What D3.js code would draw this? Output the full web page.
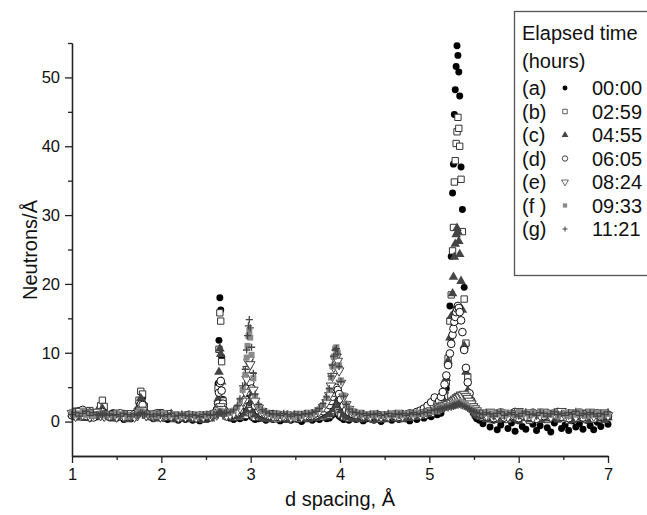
<!DOCTYPE html>
<html>
<head>
<meta charset="utf-8">
<script src="https://cdn.jsdelivr.net/npm/d3@7"></script>
<style>
  body { margin: 0; background: #fff; }
  svg { display: block; font-family: "Liberation Sans", Arial, sans-serif; }
</style>
</head>
<body>
<div id="chart"></div>
<script>
// d spacing (Å) shared by every run, denser around the peaks
const dSpacing = [
  1.00,1.04,1.08,1.12,1.16,1.20,1.24,1.28,
  1.30,1.32,1.34,1.36,1.38,
  1.42,1.46,1.50,1.54,1.58,1.62,1.66,1.70,
  1.73,1.75,1.77,1.79,1.81,1.83,
  1.87,1.91,1.95,1.99,2.03,2.07,2.11,2.15,2.19,2.23,2.27,2.31,2.35,2.39,2.43,2.47,2.51,2.55,2.59,
  2.62,2.635,2.645,2.655,2.665,2.675,2.69,2.71,2.73,
  2.77,2.81,2.85,2.88,2.91,
  2.94,2.955,2.965,2.975,2.985,2.995,3.01,3.03,3.05,
  3.09,3.13,3.17,3.21,3.25,3.29,3.33,3.37,3.41,3.45,3.49,3.53,3.57,3.61,3.65,3.69,3.73,3.77,3.81,3.85,
  3.88,3.90,3.915,3.93,3.945,3.96,3.975,3.99,4.01,4.04,4.07,
  4.10,4.14,4.18,4.22,4.26,4.30,4.34,4.38,4.42,4.46,4.50,4.54,4.58,4.62,4.66,4.70,4.74,4.78,4.82,4.86,4.90,4.94,4.98,5.02,5.06,
  5.09,5.11,5.13,5.15,5.17,5.19,5.21,5.23,5.245,5.26,5.27,5.28,5.29,5.30,5.31,5.32,5.33,5.34,5.355,5.37,5.39,5.41,5.43,5.45,5.47,5.49,5.51,5.53,5.56,
  5.60,5.64,5.68,5.72,5.76,5.80,5.84,5.88,5.92,5.96,6.00,6.04,6.08,6.12,6.16,6.20,6.24,6.28,6.32,6.36,6.40,6.44,6.48,6.52,6.56,6.60,6.64,6.68,6.72,6.76,6.80,6.84,6.88,6.92,6.96,7.00
];

// neutrons/Å for each run
const runA = [
  1.3,0.8,1.6,0.6,1.1,0.5,1.2,0.7,
  1.0,1.8,2.5,1.6,0.8,
  0.6,1.3,0.5,0.9,0.3,0.8,0.4,1.0,
  1.3,2.7,4.3,3.5,1.7,0.9,
  0.7,0.4,1.0,1.2,0.5,0.3,0.8,0.4,0.2,0.6,0.3,0.7,0.2,0.5,0.1,0.6,0.3,0.8,1.0,
  1.8,5.5,11.8,18.0,16.2,9.4,3.2,1.3,0.7,
  0.5,0.3,0.6,0.4,0.7,
  0.6,0.9,1.2,1.5,1.4,1.0,0.7,0.5,0.3,
  0.4,0.6,0.2,0.5,0.3,0.7,0.1,0.4,0.6,0.2,0.5,0.3,0.0,0.4,0.6,0.2,0.5,0.3,0.7,0.4,
  0.5,0.8,1.0,1.3,1.2,1.4,1.1,0.8,0.6,0.3,0.4,
  0.2,0.5,0.3,0.6,0.1,0.4,0.7,0.2,0.5,0.0,0.4,0.6,0.2,0.5,0.3,0.7,0.4,0.1,0.6,0.3,0.8,0.5,0.9,0.7,1.1,
  1.0,1.4,1.2,1.9,2.4,4.8,8.6,16.8,24.0,33.2,37.4,44.6,48.2,51.6,54.6,53.2,50.8,47.3,37.0,30.8,19.5,11.2,5.6,3.1,1.9,1.3,0.8,0.4,0.2,
  -0.3,0.4,-0.8,0.2,-1.2,-0.5,0.3,-1.0,-0.2,-1.4,0.1,-0.7,-1.1,0.2,-0.4,-1.3,-0.6,0.3,-0.9,-1.5,-0.2,0.4,-1.0,-0.5,-1.3,0.1,-0.8,-0.3,-1.1,0.2,-0.6,-1.2,-0.1,-0.7,0.3,-0.4
];
const runB = [
  1.0,1.5,0.7,1.3,0.9,1.6,0.8,1.2,
  1.2,2.3,3.1,2.2,1.0,
  0.9,0.6,1.2,0.7,1.0,0.5,1.1,0.8,
  1.5,3.1,4.4,4.0,2.2,1.1,
  0.8,1.1,0.6,1.3,0.9,0.7,1.0,0.6,0.8,0.5,0.9,0.6,0.7,0.4,0.8,0.5,0.9,0.7,1.1,
  1.6,4.8,10.5,15.8,14.6,8.7,3.0,1.5,0.9,
  0.8,0.6,0.9,0.7,1.0,
  0.9,1.3,1.8,2.2,2.0,1.6,1.1,0.8,0.6,
  0.7,0.5,0.9,0.6,0.8,0.4,0.7,0.9,0.5,0.8,0.6,0.4,0.7,0.9,0.5,0.8,0.6,0.9,0.7,0.8,
  0.9,1.2,1.6,1.9,2.1,2.0,1.7,1.3,1.0,0.7,0.6,
  0.5,0.8,0.6,0.9,0.5,0.7,1.0,0.6,0.8,0.4,0.7,0.9,0.6,0.8,0.5,1.0,0.7,0.6,0.9,0.8,1.1,0.9,1.3,1.2,1.6,
  1.5,1.7,1.9,2.6,3.6,5.7,9.2,14.6,18.4,24.8,28.2,34.8,37.9,40.4,42.1,44.2,42.6,40.0,35.2,27.6,17.8,11.4,6.5,3.9,2.5,1.8,1.3,1.0,0.8,
  0.6,1.0,0.4,0.8,1.2,0.5,0.9,0.3,1.1,0.7,0.4,1.0,0.6,0.2,0.9,0.5,1.2,0.7,0.3,0.8,1.1,0.4,0.9,0.6,0.2,1.0,0.7,0.5,1.2,0.3,0.8,0.6,1.0,0.4,0.9,0.7
];
const runC = [
  1.1,0.6,1.4,0.9,0.5,1.2,0.8,1.5,
  0.9,1.4,1.9,1.3,0.7,
  0.8,0.4,1.0,0.6,0.9,0.3,0.7,0.6,
  1.1,2.3,3.4,3.0,1.6,0.8,
  0.6,0.9,0.4,1.0,0.7,0.5,1.1,0.3,0.6,0.8,0.4,0.6,0.3,0.7,0.5,0.2,0.6,0.4,0.8,
  1.2,3.3,7.2,10.6,9.8,5.8,2.3,1.1,0.7,
  0.6,0.9,0.7,1.0,1.3,
  1.8,3.0,4.1,5.2,4.9,3.9,2.6,1.6,1.0,
  0.8,0.5,0.7,0.3,0.6,0.9,0.4,0.6,0.2,0.7,0.5,0.8,0.4,0.6,0.3,0.7,0.5,0.9,0.8,1.0,
  1.2,1.8,2.4,3.0,3.5,3.4,3.0,2.3,1.6,1.0,0.7,
  0.6,0.4,0.7,0.3,0.8,0.5,0.6,0.2,0.7,0.5,0.3,0.8,0.4,0.6,0.7,0.3,0.9,0.5,0.7,1.0,0.8,1.2,1.1,1.5,1.9,
  2.1,2.3,2.8,3.4,4.5,6.3,8.8,12.2,15.3,18.6,21.0,23.9,25.8,27.2,28.1,27.6,26.2,24.3,20.4,16.2,11.0,7.2,4.5,3.0,2.2,1.7,1.3,1.0,0.8,
  0.7,0.3,0.9,0.5,0.2,0.8,0.6,1.0,0.4,0.7,0.1,0.6,0.9,0.3,0.5,0.8,0.2,0.7,0.4,1.0,0.6,0.3,0.8,0.5,0.9,0.2,0.6,1.1,0.4,0.7,0.3,0.9,0.5,0.8,0.2,0.6
];
const runD = [
  0.9,1.4,1.0,1.7,0.8,1.3,0.6,1.1,
  1.0,1.2,1.4,1.1,0.9,
  0.7,1.0,0.8,1.2,0.6,0.9,0.7,1.1,
  1.0,1.7,2.5,2.4,1.5,1.0,
  0.9,0.7,1.2,0.8,0.6,1.0,0.7,0.9,0.5,0.8,0.6,1.0,0.7,0.5,0.9,0.6,0.8,1.0,1.2,
  1.6,2.6,4.2,5.6,5.9,4.5,2.6,1.5,1.0,
  0.9,1.1,1.3,1.7,2.4,
  3.2,4.3,5.1,5.8,6.1,5.7,4.8,3.4,2.3,
  1.6,1.2,1.0,0.8,1.1,0.7,0.9,0.6,1.0,0.8,0.5,0.9,0.7,1.0,0.8,1.1,0.9,1.2,1.5,1.9,
  2.4,3.0,3.6,4.2,4.7,4.9,4.6,4.0,3.2,2.3,1.7,
  1.4,1.1,0.9,1.0,0.7,0.9,0.6,0.8,1.0,0.7,0.9,0.6,0.8,1.1,0.7,0.9,1.0,1.2,1.1,1.4,1.6,1.9,2.3,2.8,3.5,
  2.6,3.0,3.6,4.3,5.4,6.7,8.2,9.9,11.3,12.6,13.5,14.5,15.2,15.9,16.4,16.8,16.5,15.9,14.7,13.0,10.4,7.8,5.7,4.1,3.0,2.3,1.8,1.5,1.2,
  1.0,0.7,1.2,0.5,0.9,1.3,0.6,1.0,0.8,1.4,0.5,0.9,1.1,0.7,1.3,0.4,1.0,0.8,1.2,0.6,0.9,1.4,0.7,1.1,0.5,1.0,0.8,1.3,0.6,1.1,0.9,0.4,1.2,0.7,1.0,0.8
];
const runE = [
  1.2,0.8,1.5,1.0,1.3,0.7,1.1,1.4,
  1.0,0.9,1.1,0.8,1.0,
  0.9,1.1,0.7,1.0,0.8,1.2,0.9,0.7,
  0.9,1.3,1.7,1.6,1.2,0.9,
  1.0,0.8,1.1,0.7,0.9,1.2,0.8,1.0,0.6,0.9,0.7,1.0,0.8,0.6,0.9,0.7,1.0,0.8,1.1,
  1.0,1.3,1.7,2.1,2.2,1.8,1.3,1.0,0.9,
  1.0,1.2,1.5,2.0,3.0,
  4.3,6.2,7.6,8.6,9.0,8.3,6.7,4.6,3.0,
  2.0,1.5,1.2,1.0,0.8,1.1,0.7,0.9,1.0,0.6,0.8,1.1,0.7,0.9,1.2,1.0,1.3,1.6,2.1,2.8,
  3.8,5.2,6.6,7.9,9.1,9.4,8.8,7.4,5.6,3.6,2.5,
  1.8,1.4,1.1,1.2,0.9,1.0,0.8,1.1,0.9,0.7,1.0,0.8,1.1,0.9,1.2,0.8,1.0,1.1,0.9,1.2,1.0,1.3,1.4,1.6,1.9,
  2.0,2.2,2.1,2.4,2.3,2.6,2.5,2.8,2.7,3.0,2.9,3.1,3.3,3.2,3.5,3.4,3.7,3.6,3.9,3.8,4.0,3.7,3.4,3.0,2.6,2.2,1.9,1.6,1.3,
  1.2,0.9,1.4,1.0,0.8,1.3,1.1,0.7,1.2,0.9,1.5,1.0,0.8,1.3,0.6,1.1,0.9,1.4,1.0,0.7,1.2,0.9,1.5,0.8,1.1,1.3,0.7,1.0,1.2,0.9,1.4,0.8,1.1,1.0,1.3,0.9
];
const runF = [
  1.4,0.9,1.2,1.6,1.0,1.3,0.8,1.1,
  1.1,1.0,1.2,0.9,1.0,
  1.0,0.8,1.2,0.9,1.1,0.7,1.0,0.9,
  1.0,1.2,1.5,1.4,1.1,1.0,
  0.9,1.1,0.8,1.0,1.2,0.8,0.9,1.1,0.7,1.0,0.8,0.9,1.1,0.7,1.0,0.8,1.0,0.9,1.2,
  1.1,1.2,1.4,1.6,1.5,1.3,1.2,1.1,1.2,
  1.3,1.6,2.1,3.0,4.6,
  6.8,9.3,11.0,12.4,13.1,12.2,9.7,6.3,3.7,
  2.3,1.6,1.3,1.1,0.9,1.2,0.8,1.0,1.1,0.9,0.7,1.0,0.8,1.1,1.3,1.0,1.4,1.8,2.4,3.4,
  4.6,6.4,8.0,9.4,10.6,10.8,10.0,8.2,6.0,3.8,2.6,
  1.9,1.5,1.2,1.3,1.0,1.1,0.9,1.2,1.0,0.8,1.1,0.9,1.2,1.0,1.3,0.9,1.1,1.2,1.0,1.3,1.1,1.2,1.4,1.5,1.7,
  1.8,2.0,1.9,2.1,2.0,2.3,2.2,2.4,2.3,2.5,2.4,2.6,2.5,2.7,2.6,2.8,2.7,2.9,2.8,2.7,2.6,2.4,2.2,2.0,1.8,1.6,1.5,1.3,1.2,
  1.1,1.4,0.9,1.2,1.0,1.5,0.8,1.3,1.1,0.9,1.4,1.0,1.2,0.8,1.3,1.1,1.5,0.9,1.2,1.0,1.4,0.8,1.1,1.3,0.9,1.2,1.0,1.5,1.1,0.8,1.3,1.0,1.2,0.9,1.4,1.1
];
const runG = [
  1.0,1.3,0.8,1.2,1.5,0.9,1.3,1.0,
  0.9,1.1,1.0,1.2,0.9,
  1.1,0.9,1.0,0.8,1.2,1.0,0.8,1.1,
  0.9,1.1,1.3,1.2,1.0,1.1,
  1.0,0.8,1.1,0.9,0.8,1.0,1.2,0.8,0.9,1.1,0.9,0.8,1.0,0.9,0.7,1.0,1.1,0.9,1.0,
  1.0,1.1,1.3,1.4,1.3,1.2,1.1,1.2,1.3,
  1.4,1.7,2.3,3.3,5.2,
  7.6,10.4,12.5,13.9,14.8,13.6,10.8,7.0,4.0,
  2.5,1.7,1.4,1.2,1.0,1.1,0.9,1.2,1.0,0.8,1.1,0.9,1.0,1.2,1.1,1.3,1.5,1.9,2.6,3.6,
  4.8,6.6,8.2,9.5,10.4,10.6,9.8,8.0,5.8,3.7,2.5,
  1.8,1.4,1.3,1.1,1.2,0.9,1.1,1.0,1.2,0.9,1.0,1.2,0.8,1.1,1.0,1.2,0.9,1.1,1.3,1.0,1.2,1.4,1.3,1.6,1.8,
  1.7,1.8,1.9,1.8,2.0,2.1,2.0,2.2,2.1,2.3,2.2,2.4,2.3,2.4,2.5,2.4,2.6,2.5,2.4,2.3,2.2,2.1,1.9,1.8,1.6,1.5,1.4,1.3,1.2,
  1.0,1.3,1.1,0.8,1.2,1.4,0.9,1.1,1.3,1.0,0.8,1.2,1.4,1.0,1.1,0.9,1.3,1.2,0.8,1.1,1.4,1.0,1.2,0.9,1.3,1.1,1.5,0.9,1.2,1.0,1.3,1.1,0.8,1.2,1.0,1.4
];

const runLabels = ["(a)", "(b)", "(c)", "(d)", "(e)", "(f )", "(g)"];
const elapsed = ["00:00", "02:59", "04:55", "06:05", "08:24", "09:33", "11:21"];
const xTicks = [1, 2, 3, 4, 5, 6, 7];
const xMinor = [1.5, 2.5, 3.5, 4.5, 5.5, 6.5];
const yTicks = [0, 10, 20, 30, 40, 50];
const yMinor = [5, 15, 25, 35, 45, 55];

// --- marker styles, one per run ---
const plus = s => `M${-s},0H${s}M0,${-s}V${s}`;
const markers = [
  { data: runA, d: k => d3.symbol(d3.symbolCircle, 38 * k)(), fill: "#000", stroke: "none" },
  { data: runB, d: k => d3.symbol(d3.symbolSquare, 40 * k)(), fill: "#fff", stroke: "#333" },
  { data: runC, d: k => d3.symbol(d3.symbolTriangle, 40 * k)(), fill: "#444", stroke: "none" },
  { data: runD, d: k => d3.symbol(d3.symbolCircle, 46 * k)(), fill: "#fff", stroke: "#111" },
  { data: runE, d: k => d3.symbol(d3.symbolTriangle, 40 * k)(), fill: "#fff", stroke: "#444", rot: 180 },
  { data: runF, d: k => d3.symbol(d3.symbolSquare, 36 * k)(), fill: "#8a8a8a", stroke: "none" },
  { data: runG, d: k => plus(3.6 * Math.sqrt(k)), fill: "none", stroke: "#444", sw: 1.3 }
];

const width = 647, height = 515;
const svg = d3.select("#chart").append("svg")
  .attr("width", width)
  .attr("height", height);

// --- Scales ---
const x = d3.scaleLinear().domain([1, 7]).range([72, 608]);
const y = d3.scaleLinear().domain([-5, 55]).range([456, 43]);

// --- Points ---
markers.forEach(m => {
  const pts = m.data.map((v, i) => [dSpacing[i], v]).filter(p => p[0] != null);
  svg.append("g")
    .selectAll("path")
    .data(pts)
    .join("path")
    .attr("transform", p => `translate(${x(p[0])},${y(p[1])})` + (m.rot ? ` rotate(${m.rot})` : ""))
    .attr("d", m.d(1))
    .attr("fill", m.fill)
    .attr("stroke", m.stroke)
    .attr("stroke-width", m.sw || 1);
});

// --- Axes ---
const styleAxis = g => {
  g.selectAll("path, line").attr("stroke", "#222").attr("stroke-width", 1.3);
  g.selectAll("text").attr("fill", "#111").style("font-size", "16.5px")
    .style("font-family", "'Liberation Sans', Arial, sans-serif");
};

svg.append("g")
  .attr("transform", `translate(0,${y(-5)})`)
  .call(d3.axisBottom(x).tickValues(xMinor).tickFormat("").tickSize(4).tickSizeOuter(0))
  .call(styleAxis);
svg.append("g")
  .attr("transform", `translate(0,${y(-5)})`)
  .call(d3.axisBottom(x).tickValues(xTicks).tickFormat(d3.format("d")).tickSize(7).tickPadding(5).tickSizeOuter(0))
  .call(styleAxis);

svg.append("g")
  .attr("transform", `translate(${x(1)},0)`)
  .call(d3.axisLeft(y).tickValues(yMinor).tickFormat("").tickSize(4).tickSizeOuter(0))
  .call(styleAxis);
svg.append("g")
  .attr("transform", `translate(${x(1)},0)`)
  .call(d3.axisLeft(y).tickValues(yTicks).tickFormat(d3.format("d")).tickSize(7).tickPadding(5).tickSizeOuter(0))
  .call(styleAxis);

// --- Axis labels ---
svg.append("text")
  .attr("x", (x(1) + x(7)) / 2)
  .attr("y", 506)
  .attr("text-anchor", "middle")
  .style("font-size", "20px")
  .attr("fill", "#111")
  .text("d spacing, Å");

svg.append("text")
  .attr("transform", "rotate(-90)")
  .attr("x", -250)
  .attr("y", 37)
  .attr("text-anchor", "middle")
  .style("font-size", "20px")
  .attr("fill", "#111")
  .text("Neutrons/Å");

// --- Legend ---
const lg = svg.append("g");
lg.append("rect")
  .attr("x", 514.5).attr("y", 11.5)
  .attr("width", 150).attr("height", 264)
  .attr("fill", "#fff")
  .attr("stroke", "#555")
  .attr("stroke-width", 1.3);

lg.append("text").attr("x", 522).attr("y", 40).style("font-size", "20px").attr("fill", "#111").text("Elapsed time");
lg.append("text").attr("x", 522).attr("y", 68).style("font-size", "20px").attr("fill", "#111").text("(hours)");

const rows = lg.selectAll(".legend")
  .data(markers)
  .join("g")
  .attr("class", "legend")
  .attr("transform", (d, i) => `translate(0,${95 + i * 23.5})`);

rows.append("text").attr("x", 522).style("font-size", "20px").attr("fill", "#111").text((d, i) => runLabels[i]);
rows.append("text").attr("x", 592).style("font-size", "20px").attr("fill", "#111").text((d, i) => elapsed[i]);
rows.append("path")
  .attr("transform", m => `translate(565,-7)` + (m.rot ? ` rotate(${m.rot})` : ""))
  .attr("d", m => m.d(0.5))
  .attr("fill", m => m.fill)
  .attr("stroke", m => m.stroke)
  .attr("stroke-width", m => (m.sw || 1) * 0.8);
</script>
</body>
</html>
